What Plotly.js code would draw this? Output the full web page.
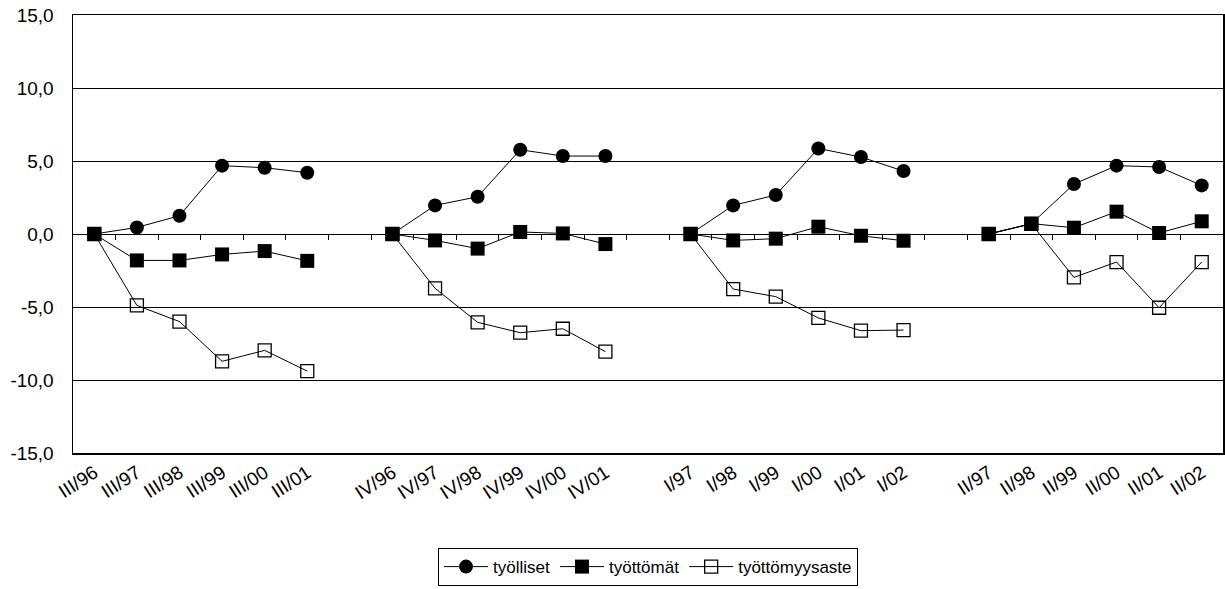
<!DOCTYPE html>
<html>
<head>
<meta charset="utf-8">
<script src="https://cdn.plot.ly/plotly-3.0.1.min.js"></script>
<style>html,body{margin:0;padding:0;background:#fff;}#chart{width:1225px;height:589px;}</style>
</head>
<body>
<div id="chart"></div>
<script>
// Category slots (null = empty gap between quarter groups)
const categories = [
  "III/96","III/97","III/98","III/99","III/00","III/01", null,
  "IV/96","IV/97","IV/98","IV/99","IV/00","IV/01", null,
  "I/97","I/98","I/99","I/00","I/01","I/02", null,
  "II/97","II/98","II/99","II/00","II/01","II/02"
];
const tyolliset = [
  0, 0.45, 1.25, 4.68, 4.54, 4.2, null,
  0, 1.96, 2.55, 5.77, 5.34, 5.34, null,
  0, 1.96, 2.67, 5.86, 5.27, 4.31, null,
  0, 0.7, 3.42, 4.68, 4.59, 3.33
];
const tyottomat = [
  0, -1.81, -1.81, -1.4, -1.17, -1.84, null,
  0, -0.44, -1.0, 0.14, 0.04, -0.69, null,
  0, -0.44, -0.32, 0.5, -0.12, -0.46, null,
  0, 0.71, 0.43, 1.53, 0.07, 0.87
];
const tyottomyysaste = [
  0, -4.89, -6.0, -8.72, -7.97, -9.39, null,
  0, -3.72, -6.05, -6.76, -6.49, -8.06, null,
  0, -3.77, -4.29, -5.75, -6.62, -6.58, null,
  0, 0.7, -2.97, -1.92, -5.05, -1.92
];
const seriesNames = ["työlliset", "työttömät", "työttömyysaste"];
const yTicks = [-15, -10, -5, 0, 5, 10, 15];

const xs = categories.map((c, i) => i);
const tickIdx = categories.map((c, i) => c === null ? null : i).filter(v => v !== null);
const tickTxt = categories.filter(c => c !== null);
const boundaries = [];
for (let i = 0; i < categories.length - 1; i++) boundaries.push(i + 0.5);

const font = {family: "Liberation Sans, Arial, sans-serif", color: "#000"};

const traces = [
  {x: xs, y: tyolliset, name: seriesNames[0], type: "scatter", mode: "lines+markers",
   line: {color: "#000", width: 1}, marker: {symbol: "circle", size: 14, color: "#000"}},
  {x: xs, y: tyottomat, name: seriesNames[1], type: "scatter", mode: "lines+markers",
   line: {color: "#000", width: 1}, marker: {symbol: "square", size: 14, color: "#000"}},
  {x: xs, y: tyottomyysaste, name: seriesNames[2], type: "scatter", mode: "lines+markers",
   line: {color: "#000", width: 1}, marker: {symbol: "square-open", size: 13, color: "#000", line: {color: "#000", width: 1.3}}},
  {x: [0], y: [0], xaxis: "x2", yaxis: "y", type: "scatter", mode: "markers",
   marker: {opacity: 0}, showlegend: false, hoverinfo: "skip"}
];

const layout = {
  width: 1225, height: 589,
  margin: {l: 73, r: 2, t: 15, b: 136, autoexpand: false},
  paper_bgcolor: "#fff", plot_bgcolor: "#fff",
  font: Object.assign({size: 17}, font),
  showlegend: true,
  legend: {
    orientation: "h", x: 0.5, xanchor: "center", y: -0.217, yanchor: "top",
    bordercolor: "#000", borderwidth: 1, font: Object.assign({size: 17}, font),
    itemwidth: 44, tracegroupgap: 0
  },
  xaxis: {
    range: [-0.5, categories.length - 0.5],
    tickmode: "array", tickvals: tickIdx, ticktext: tickTxt,
    tickangle: -33, ticks: "", showgrid: false, zeroline: false,
    showline: true, linecolor: "#000", linewidth: 1.5, mirror: true,
    tickfont: Object.assign({size: 19}, font), automargin: false
  },
  xaxis2: {
    overlaying: "x", anchor: "free", position: 0.5, side: "bottom",
    range: [-0.5, categories.length - 0.5],
    tickmode: "array", tickvals: boundaries, showticklabels: false,
    ticks: "outside", ticklen: 5, tickwidth: 1, tickcolor: "#000",
    showgrid: false, zeroline: false, showline: false
  },
  yaxis: {
    range: [-15, 15], tickmode: "array", tickvals: yTicks,
    ticktext: yTicks.map(v => v.toFixed(1).replace(".", ",")),
    showgrid: true, gridcolor: "#000", gridwidth: 1,
    zeroline: true, zerolinecolor: "#000", zerolinewidth: 1,
    showline: true, linecolor: "#000", linewidth: 1.5, mirror: true,
    ticks: "", ticklabelstandoff: 14, automargin: false,
    tickfont: Object.assign({size: 19}, font)
  }
};

Plotly.newPlot("chart", traces, layout, {displayModeBar: false, staticPlot: true});
</script>
</body>
</html>
